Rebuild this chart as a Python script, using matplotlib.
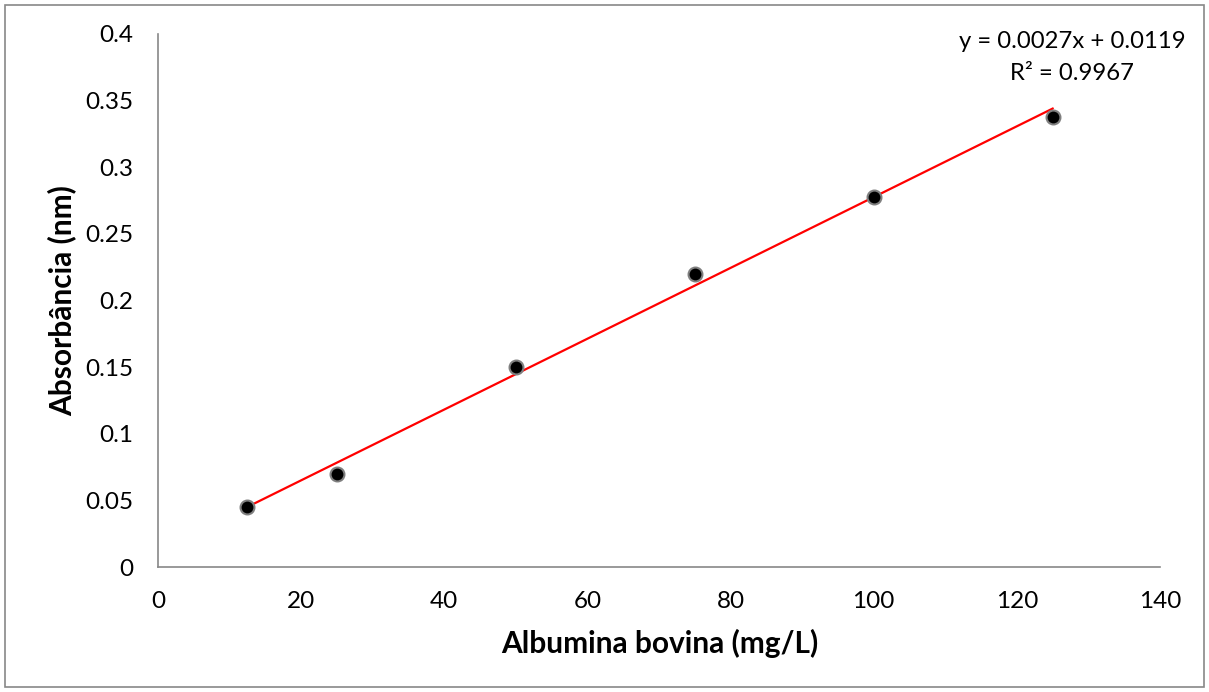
import numpy as np
import matplotlib
matplotlib.use("Agg")
import matplotlib.pyplot as plt

conc = [12.5, 25, 50, 75, 100, 125]
absorb = [0.045, 0.07, 0.15, 0.22, 0.278, 0.338]
eq_text = "y = 0.0027x + 0.0119"
r2_text = "R² = 0.9967"
xticks = [0, 20, 40, 60, 80, 100, 120, 140]
yticks = [0, 0.05, 0.1, 0.15, 0.2, 0.25, 0.3, 0.35, 0.4]
ytick_labels = ["0", "0.05", "0.1", "0.15", "0.2", "0.25", "0.3", "0.35", "0.4"]

plt.rcParams['font.family'] = ['Lato', 'DejaVu Sans']

fig = plt.figure(figsize=(12.09, 6.92), dpi=100)
fig.patches.append(plt.Rectangle((5/1209, 5/692), 1199/1209, 682/692, transform=fig.transFigure,
                                 fill=False, edgecolor='#888888', linewidth=1.2))
ax = fig.add_axes([158/1209, 125/692, 1002/1209, 533/692])

slope, intercept = np.polyfit(conc, absorb, 1)
xs = np.array([min(conc), max(conc)])
ax.plot(xs, slope * xs + intercept, color='#ff0000', linewidth=1.6, zorder=2)
ax.plot(conc, absorb, 'o', markersize=10, markerfacecolor='black',
        markeredgecolor='#7f7f7f', markeredgewidth=1.5, zorder=3)

ax.set_xlim(0, 140)
ax.set_ylim(0, 0.4)
ax.set_xticks(xticks)
ax.set_xticklabels([str(t) for t in xticks])
ax.set_yticks(yticks)
ax.set_yticklabels(ytick_labels)
ax.tick_params(length=0, labelsize=17.5)
ax.tick_params(axis='x', pad=17)
ax.tick_params(axis='y', pad=18)
for s in ['top', 'right']:
    ax.spines[s].set_visible(False)
for s in ['left', 'bottom']:
    ax.spines[s].set_color('#888888')
    ax.spines[s].set_linewidth(1.2)

ax.set_xlabel("Albumina bovina (mg/L)", fontsize=21.5, fontweight='bold')
ax.set_ylabel("Absorbância (nm)", fontsize=21.5, fontweight='bold')
ax.xaxis.set_label_coords((660 - 158) / 1002, (567 - 643) / 533)
ax.yaxis.set_label_coords((62 - 158) / 1002, 0.5)
ax.xaxis.label.set_va('center')
ax.yaxis.label.set_va('center')

fig.text(1072/1209, 1 - 42/692, eq_text, ha='center', va='center', fontsize=17.2)
fig.text(1072/1209, 1 - 73/692, r2_text, ha='center', va='center', fontsize=17.2)

fig.savefig("out.png", dpi=100)
